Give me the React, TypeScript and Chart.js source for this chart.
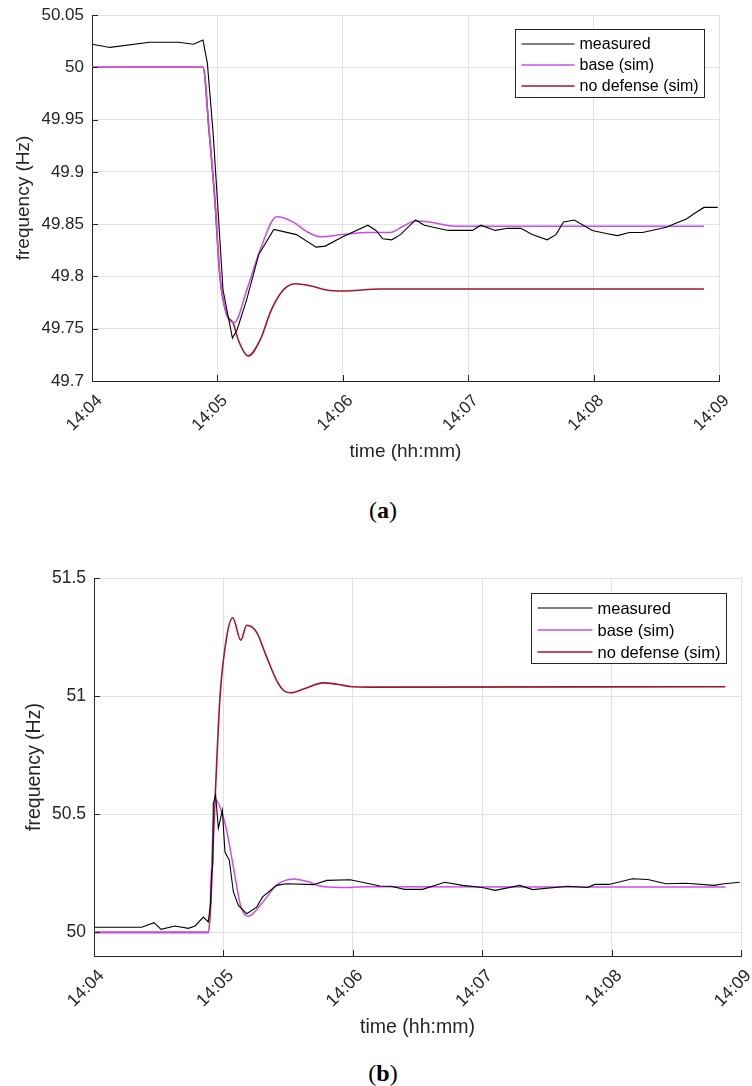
import React, { useEffect, useRef } from "react";
import { Chart, registerables } from "chart.js";

Chart.register(...registerables);

// ---------- shared ----------
const xTickValues = [0, 1, 2, 3, 4, 5];
const xTickLabels = ["14:04", "14:05", "14:06", "14:07", "14:08", "14:09"];
const seriesNames = ["measured", "base (sim)", "no defense (sim)"];
const seriesColors = ["#000000", "#c84fe6", "#a2142f"];
const seriesWidths = [1.1, 1.5, 1.6];

// ---------- chart (a) ----------
const yTicksA = [49.7, 49.75, 49.8, 49.85, 49.9, 49.95, 50, 50.05];
const measuredTimeA = [0, 0.144, 0.46, 0.69, 0.81, 0.885, 0.92, 0.966, 1.0, 1.045, 1.12, 1.157, 1.234, 1.33, 1.45, 1.63, 1.787, 1.86, 2.0, 2.2, 2.265, 2.318, 2.39, 2.46, 2.58, 2.65, 2.84, 3.035, 3.1, 3.216, 3.315, 3.42, 3.51, 3.63, 3.7, 3.76, 3.846, 3.99, 4.1, 4.19, 4.285, 4.39, 4.58, 4.66, 4.74, 4.8, 4.88, 4.99];
const measuredA = [50.022, 50.019, 50.024, 50.024, 50.022, 50.026, 50.004, 49.937, 49.873, 49.787, 49.741, 49.749, 49.778, 49.821, 49.845, 49.84, 49.828, 49.829, 49.838, 49.849, 49.844, 49.836, 49.835, 49.84, 49.854, 49.849, 49.844, 49.844, 49.849, 49.844, 49.846, 49.846, 49.84, 49.835, 49.84, 49.852, 49.854, 49.844, 49.841, 49.839, 49.842, 49.842, 49.847, 49.851, 49.855, 49.86, 49.866, 49.866];
const baseTimeA = [0, 0.885, 0.935, 0.98, 1.02, 1.07, 1.135, 1.234, 1.34, 1.473, 1.605, 1.71, 1.82, 2.0, 2.19, 2.38, 2.48, 2.58, 2.69, 2.9, 4.88];
const baseA = [50, 50, 49.937, 49.873, 49.8, 49.765, 49.756, 49.787, 49.825, 49.857, 49.852, 49.843, 49.838, 49.84, 49.842, 49.842, 49.848, 49.853, 49.852, 49.848, 49.848];
const noDefTimeA = [0, 0.885, 0.935, 0.98, 1.02, 1.07, 1.127, 1.167, 1.246, 1.34, 1.43, 1.525, 1.62, 1.74, 1.87, 2.0, 2.3, 4.88];
const noDefA = [50, 50, 49.937, 49.873, 49.8, 49.765, 49.755, 49.739, 49.724, 49.739, 49.768, 49.787, 49.793, 49.791, 49.787, 49.786, 49.788, 49.788];

// ---------- chart (b) ----------
const yTicksB = [50, 50.5, 51, 51.5];
const measuredTimeB = [0, 0.368, 0.464, 0.518, 0.626, 0.729, 0.781, 0.845, 0.883, 0.901, 0.909, 0.918, 0.922, 0.94, 0.961, 0.992, 1.012, 1.046, 1.077, 1.116, 1.18, 1.257, 1.303, 1.41, 1.49, 1.695, 1.8, 1.98, 2.21, 2.295, 2.4, 2.54, 2.71, 2.85, 3.0, 3.1, 3.29, 3.39, 3.66, 3.815, 3.87, 3.98, 4.16, 4.28, 4.42, 4.575, 4.79, 4.87, 4.99];
const measuredB = [50.022, 50.022, 50.041, 50.013, 50.027, 50.017, 50.027, 50.065, 50.044, 50.12, 50.249, 50.29, 50.545, 50.58, 50.44, 50.517, 50.34, 50.305, 50.171, 50.114, 50.079, 50.107, 50.15, 50.199, 50.206, 50.202, 50.22, 50.223, 50.196, 50.195, 50.182, 50.182, 50.212, 50.199, 50.19, 50.178, 50.199, 50.181, 50.195, 50.19, 50.203, 50.203, 50.227, 50.224, 50.206, 50.208, 50.199, 50.206, 50.212];
const baseTimeB = [0, 0.883, 0.935, 0.987, 1.025, 1.077, 1.136, 1.193, 1.296, 1.41, 1.54, 1.65, 1.746, 1.9, 2.1, 4.88];
const baseB = [50, 50, 50.565, 50.51, 50.432, 50.277, 50.107, 50.068, 50.122, 50.199, 50.226, 50.215, 50.196, 50.19, 50.193, 50.192];
const noDefTimeB = [0, 0.883, 0.935, 0.974, 1.025, 1.072, 1.134, 1.18, 1.257, 1.333, 1.41, 1.463, 1.52, 1.62, 1.77, 1.88, 2.0, 2.2, 4.88];
const noDefB = [50, 50, 50.56, 51.0, 51.25, 51.332, 51.237, 51.3, 51.27, 51.167, 51.068, 51.025, 51.014, 51.03, 51.056, 51.05, 51.04, 51.038, 51.04];

const FONT = "'Liberation Sans', Arial, Helvetica, sans-serif";

const zip = (t: number[], v: number[]) => t.map((x, i) => ({ x, y: v[i] }));

const matlabPlugin = {
  id: "matlabDeco",
  afterDraw(chart: any, _args: any, opts: any) {
    const { ctx, chartArea: ca, scales } = chart;
    ctx.save();
    ctx.strokeStyle = "#262626";
    ctx.lineWidth = 1;
    ctx.beginPath();
    for (const v of xTickValues) {
      const px = Math.round(scales.x.getPixelForValue(v)) + 0.5;
      ctx.moveTo(px, ca.bottom);
      ctx.lineTo(px, ca.bottom - opts.tickLen);
    }
    for (const v of opts.yTicks) {
      const py = Math.round(scales.y.getPixelForValue(v)) + 0.5;
      ctx.moveTo(ca.left, py);
      ctx.lineTo(ca.left + opts.tickLen, py);
    }
    ctx.stroke();

    // rotated x tick labels (MATLAB style, 45 deg)
    ctx.fillStyle = "#262626";
    ctx.font = `${opts.tickFont}px ${FONT}`;
    ctx.textAlign = "right";
    ctx.textBaseline = "middle";
    xTickValues.forEach((v, i) => {
      const px = scales.x.getPixelForValue(v);
      ctx.save();
      ctx.translate(px + opts.lblDx, ca.bottom + opts.lblDy);
      ctx.rotate(-Math.PI / 4);
      ctx.fillText(xTickLabels[i], 0, 0);
      ctx.restore();
    });

    // legend box
    const fs = opts.legendFont;
    ctx.font = `${fs}px ${FONT}`;
    const lineLen = opts.lineLen;
    const padL = 6, gap = 5, padR = 6;
    let maxW = 0;
    for (const n of seriesNames) maxW = Math.max(maxW, ctx.measureText(n).width);
    const w = Math.round(padL + lineLen + gap + maxW + padR);
    const h = opts.legendH;
    const x0 = Math.round(ca.right - opts.legendRight - w) + 0.5;
    const y0 = Math.round(ca.top + opts.legendTop) + 0.5;
    ctx.fillStyle = "#ffffff";
    ctx.fillRect(x0, y0, w, h);
    ctx.strokeStyle = "#262626";
    ctx.lineWidth = 1;
    ctx.strokeRect(x0, y0, w, h);
    ctx.textBaseline = "middle";
    ctx.textAlign = "left";
    seriesNames.forEach((n, i) => {
      const cy = y0 + opts.rowFirst + i * opts.rowGap;
      ctx.strokeStyle = seriesColors[i];
      ctx.lineWidth = seriesWidths[i];
      ctx.beginPath();
      ctx.moveTo(x0 + padL, cy);
      ctx.lineTo(x0 + padL + lineLen, cy);
      ctx.stroke();
      ctx.fillStyle = "#000000";
      ctx.fillText(n, x0 + padL + lineLen + gap, cy + 1);
    });
    ctx.restore();
  },
};

type Props = {
  top: number;
  height: number;
  yTicks: number[];
  yMin: number;
  yMax: number;
  series: { t: number[]; v: number[] }[];
  pad: { top: number; right: number };
  yAxisW: number;
  xAxisH: number;
  tickFont: number;
  titleFont: number;
  xTitlePad: number;
  yTitlePad: number;
  legend: any;
};

function FreqChart(p: Props) {
  const ref = useRef<HTMLCanvasElement>(null);
  useEffect(() => {
    if (!ref.current) return;
    const datasets = p.series.map((s, i) => ({
      label: seriesNames[i],
      data: zip(s.t, s.v),
      borderColor: seriesColors[i],
      backgroundColor: seriesColors[i],
      borderWidth: seriesWidths[i],
      pointRadius: 0,
      fill: false,
      tension: 0,
      cubicInterpolationMode: i === 0 ? "default" : "monotone",
    }));
    const chart = new Chart(ref.current, {
      type: "line",
      data: { datasets: datasets as any },
      plugins: [matlabPlugin as any],
      options: {
        animation: false,
        responsive: false,
        maintainAspectRatio: false,
        layout: { padding: { top: p.pad.top, right: p.pad.right, left: 0, bottom: 0 } },
        plugins: {
          legend: { display: false },
          tooltip: { enabled: false },
          matlabDeco: { ...p.legend, yTicks: p.yTicks, tickLen: 6, tickFont: p.tickFont, lblDx: 7.5, lblDy: 17 },
        } as any,
        scales: {
          x: {
            type: "linear",
            min: 0,
            max: 5,
            afterBuildTicks: (axis: any) => {
              axis.ticks = xTickValues.map((v) => ({ value: v }));
            },
            afterFit: (axis: any) => {
              axis.height = p.xAxisH;
              axis.paddingLeft = 0;
              axis.paddingRight = 0;
            },
            ticks: { display: false, autoSkip: false },
            grid: { color: "#e2e2e2", drawTicks: false, lineWidth: 1 },
            border: { display: true, color: "#262626", width: 1 },
            title: {
              display: true,
              text: "time (hh:mm)",
              color: "#262626",
              font: { family: FONT, size: p.titleFont },
              padding: { top: 0, bottom: p.xTitlePad },
            },
          },
          y: {
            type: "linear",
            min: p.yMin,
            max: p.yMax,
            afterBuildTicks: (axis: any) => {
              axis.ticks = p.yTicks.map((v) => ({ value: v }));
            },
            afterFit: (axis: any) => {
              axis.width = p.yAxisW;
              axis.paddingTop = 0;
              axis.paddingBottom = 0;
            },
            ticks: {
              padding: 8,
              color: "#262626",
              font: { family: FONT, size: p.tickFont },
              callback: (v: any) => String(parseFloat(Number(v).toFixed(2))),
            },
            grid: { color: "#e2e2e2", drawTicks: false, lineWidth: 1 },
            border: { display: true, color: "#262626", width: 1 },
            title: {
              display: true,
              text: "frequency (Hz)",
              color: "#262626",
              font: { family: FONT, size: p.titleFont },
              padding: { top: p.yTitlePad, bottom: 0 },
            },
          },
        },
      } as any,
    });
    return () => chart.destroy();
  }, []);
  return (
    <canvas
      ref={ref}
      width={752}
      height={p.height}
      style={{ position: "absolute", left: 0, top: p.top, width: 752, height: p.height }}
    />
  );
}

const captionStyle = (top: number): React.CSSProperties => ({
  position: "absolute",
  left: 0,
  width: 766,
  top,
  textAlign: "center",
  fontFamily: "'Liberation Serif', 'Times New Roman', serif",
  fontSize: 24,
  lineHeight: "28px",
  color: "#000",
});

export default function App() {
  return (
    <div style={{ position: "absolute", left: 0, top: 0, width: 752, height: 1086, background: "#fff", overflow: "hidden" }}>
      <FreqChart
        top={0}
        height={480}
        yTicks={yTicksA}
        yMin={49.7}
        yMax={50.05}
        series={[
          { t: measuredTimeA, v: measuredA },
          { t: baseTimeA, v: baseA },
          { t: noDefTimeA, v: noDefA },
        ]}
        pad={{ top: 15, right: 33 }}
        yAxisW={92}
        xAxisH={99}
        tickFont={17}
        titleFont={19}
        xTitlePad={16.6}
        yTitlePad={12.6}
        legend={{ legendFont: 16, lineLen: 53, legendH: 68, legendRight: 15, legendTop: 14, rowFirst: 14.5, rowGap: 21 }}
      />
      <div style={captionStyle(496)}>
        (<b>a</b>)
      </div>
      <FreqChart
        top={540}
        height={510}
        yTicks={yTicksB}
        yMin={49.9}
        yMax={51.5}
        series={[
          { t: measuredTimeB, v: measuredB },
          { t: baseTimeB, v: baseB },
          { t: noDefTimeB, v: noDefB },
        ]}
        pad={{ top: 38, right: 11 }}
        yAxisW={94}
        xAxisH={94}
        tickFont={17.5}
        titleFont={19.5}
        xTitlePad={10.3}
        yTitlePad={23.3}
        legend={{ legendFont: 16.5, lineLen: 55, legendH: 70, legendRight: 15, legendTop: 15, rowFirst: 14.5, rowGap: 22 }}
      />
      <div style={captionStyle(1059)}>
        (<b>b</b>)
      </div>
    </div>
  );
}
